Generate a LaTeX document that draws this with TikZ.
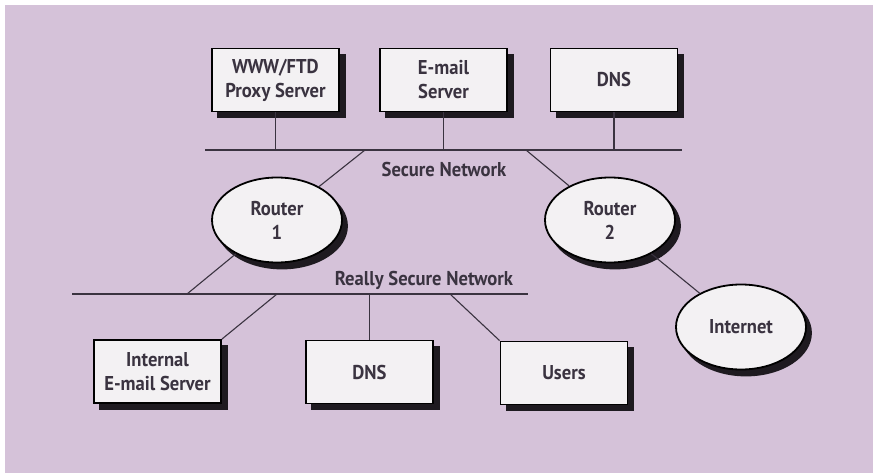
\documentclass[tikz,border=0pt]{standalone}
\usepackage{fontspec}
\setmainfont{PT Sans}[BoldFont={* Bold}, FakeStretch=0.93]
\usetikzlibrary{shapes.geometric,calc}
\definecolor{panel}{HTML}{D5C2D9}
\definecolor{boxfill}{HTML}{F3F1F3}
\definecolor{ink}{HTML}{3A3340}
\definecolor{shade}{HTML}{1E1A20}
\tikzset{
  x=1pt, y=-1pt,
  boxshape/.style={rectangle, line width=1.8pt,
    minimum width=127pt, minimum height=63pt, inner sep=0pt},
  ovalshape/.style={ellipse, line width=1.8pt,
    minimum width=130pt, minimum height=85pt, inner sep=0pt},
  labeltext/.style={align=center, text=ink,
    font=\bfseries\fontsize{20}{24}\selectfont},
  hostbox/.style={boxshape, labeltext, draw=black, fill=boxfill},
  router/.style={ovalshape, labeltext, draw=black, fill=boxfill},
  shadowfill/.style={fill=shade},
  link/.style={draw=ink, line width=1.1pt},
  netlabel/.style={font=\bfseries\fontsize{20}{24}\selectfont, text=ink, inner sep=0pt}
}
% a box or oval with its solid shadow set down and to the right
\newcommand\hostat[3]{%
  \fill[shadowfill] ($(#2)+(-58.4,-26.4)$) rectangle ($(#2)+(70.4,38.4)$);
  \node[hostbox] (#1) at (#2) {#3};}
\newcommand\ovalat[3]{%
  \fill[shadowfill] ($(#2)+(5,6)$) ellipse [x radius=65.9, y radius=43.4];
  \node[router] (#1) at (#2) {#3};}
\begin{document}
\begin{tikzpicture}
  % page and lilac panel
  \fill[white] (0,0) rectangle (873,473);
  \fill[panel] (5,5) rectangle (873,473);
  \useasboundingbox (0,0) rectangle (873,473);

  % hosts on the secure network
  \hostat{www}{275.5,80}{WWW/FTD\\Proxy Server}
  \hostat{email}{443.5,80}{E-mail\\Server}
  \hostat{dnsa}{614,80}{DNS}

  % routers and the Internet
  \ovalat{r1}{277,220}{Router\\1}
  \ovalat{r2}{610,220}{Router\\2}
  \ovalat{inet}{741,327}{Internet}

  % hosts on the really secure network
  \hostat{iemail}{157.5,371.5}{Internal\\E-mail Server}
  \hostat{dnsb}{369.5,372}{DNS}
  \hostat{users}{564,373}{Users}

  % secure network bus
  \coordinate (sA) at (205,150);
  \coordinate (sB) at (682,150);
  \coordinate (sR1) at (365,150);
  \coordinate (sR2) at (526,150);
  \draw[link] (sA) -- (sB);
  \node[netlabel] (slabel) at (444,170) {Secure Network};

  % really secure network bus
  \coordinate (rA) at (72,294);
  \coordinate (rB) at (528,294);
  \coordinate (rR1) at (187,294);
  \coordinate (rIE) at (277,294);
  \coordinate (rUS) at (450,294);
  \draw[link] (rA) -- (rB);
  \node[netlabel] (rlabel) at (424,280) {Really Secure Network};

  % drops from the secure bus
  \draw[link] (www.south) -- (www.south |- sA);
  \draw[link] (email.south) -- (email.south |- sA);
  \draw[link] (dnsa.south) -- (dnsa.south |- sA);
  \draw[link] (sR1) -- (r1);
  \draw[link] (sR2) -- (r2);

  % drops from the really secure bus
  \draw[link] (rR1) -- (r1);
  \draw[link] (rIE) -- (iemail.north east);
  \draw[link] (dnsb.north |- rA) -- (dnsb.north);
  \draw[link] (rUS) -- (users.north west);

  % outside link
  \draw[link] (r2) -- (inet);
\end{tikzpicture}
\end{document}
